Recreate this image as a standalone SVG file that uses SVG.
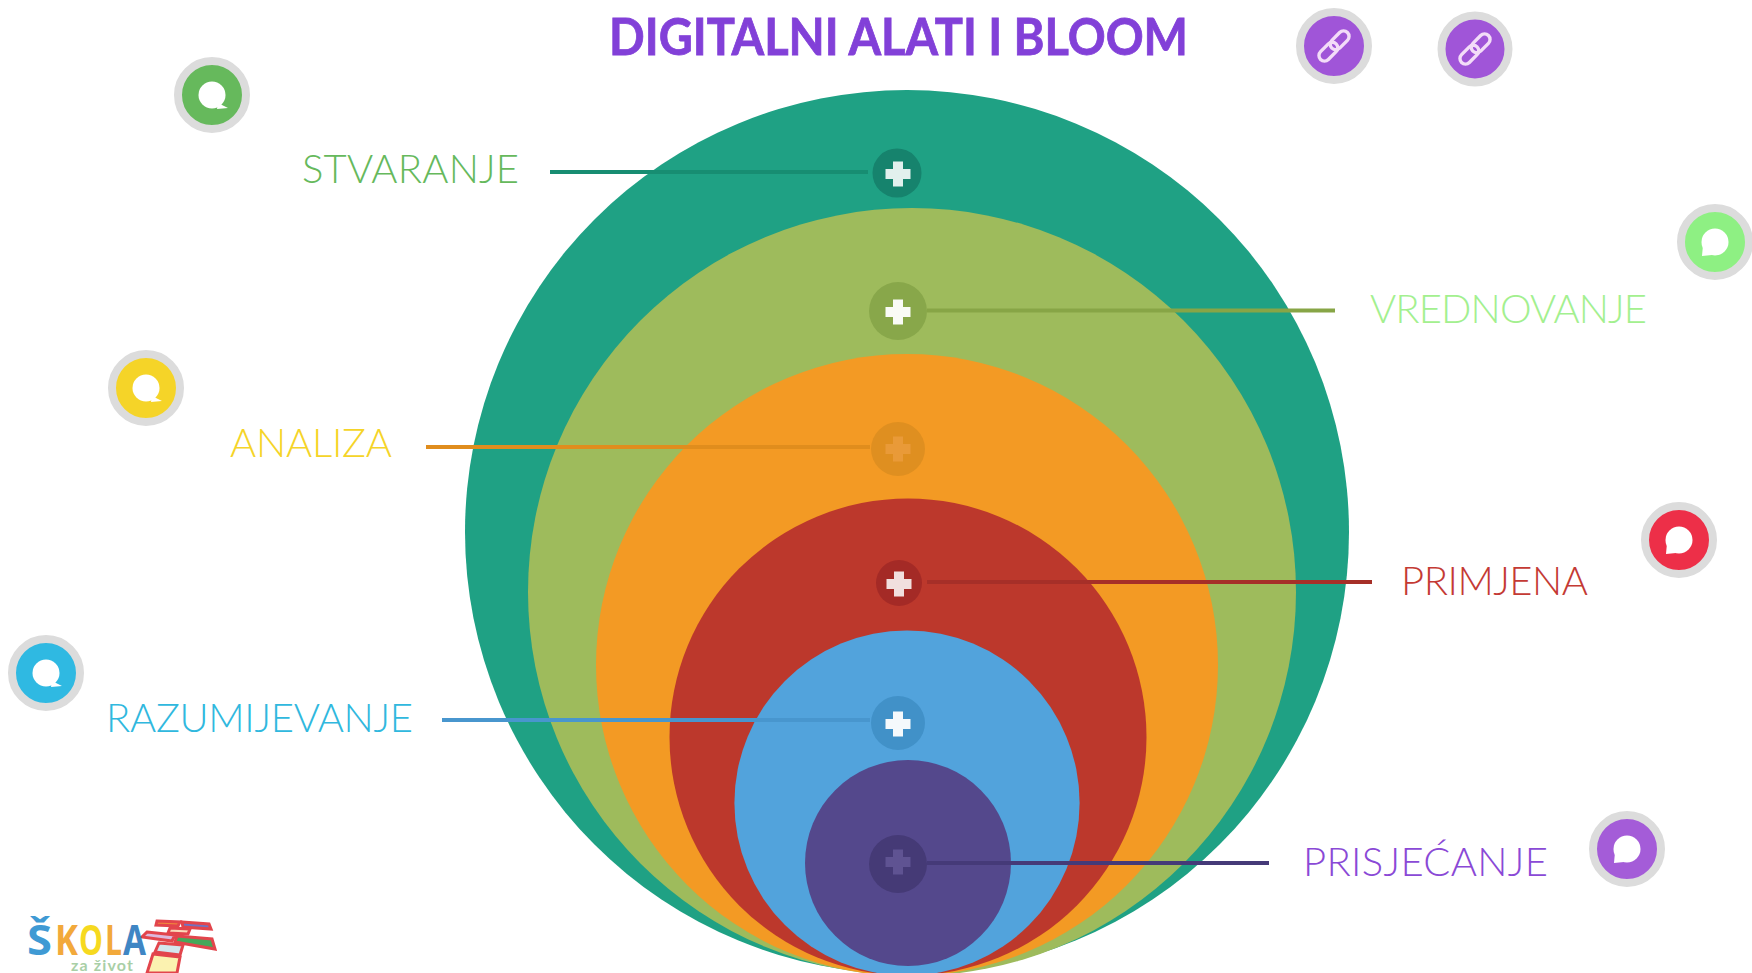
<svg xmlns="http://www.w3.org/2000/svg" width="1752" height="973" viewBox="0 0 1752 973">
<style>
text{font-family:"Lato","Liberation Sans",sans-serif}
.lab{font-size:40px;font-weight:300}
.title{font-size:52px;font-weight:700;fill:#8240d8}
.ring{stroke:#dcdcdc;stroke-width:8}
.plus{fill:#fff}
.conn{stroke-width:4;fill:none}
.lg{font-family:"Open Sans","Liberation Sans",sans-serif;font-weight:700;font-size:42px}
.cell{stroke:#e2454c;stroke-width:3}
</style>
<defs>
<g id="bubR"><circle r="13.5" fill="#fff"/><path d="M6 8 L16 13 L5 14Z" fill="#fff"/></g>
<g id="bubL"><circle r="13.5" fill="#fff"/><path d="M-12 3 L-13 14 L-3 13Z" fill="#fff"/></g>
<path id="pl" d="M-5 -12.500H5V-5H12.500V5H5V12.500H-5V5H-12.500V-5H-5Z"/>
<g id="lnk" fill="none" stroke="#f3dcf8" stroke-width="3.400" transform="rotate(-45)"><rect x="-19" y="-5.500" width="22" height="11" rx="5.500"/><rect x="-3" y="-5.500" width="22" height="11" rx="5.500"/></g>
</defs>
<rect width="1752" height="973" fill="#fff"/>
<g id="discs">
<circle id="d1" cx="907" cy="532" r="442" fill="#1fa184"/>
<circle id="d2" cx="912" cy="592" r="384" fill="#9ebb5c"/>
<circle id="d3" cx="907" cy="665" r="311" fill="#f39a24"/>
<circle id="d4" cx="908" cy="737" r="238.500" fill="#bc382c"/>
<circle id="d5" cx="907" cy="803" r="172.600" fill="#52a3dc"/>
<circle id="d6" cx="908" cy="863" r="103" fill="#54488c"/>
</g>
<g id="connectors">
<path class="conn" d="M550 172H868" stroke="#178d72"/>
<path class="conn" d="M927 310.500H1335" stroke="#87a546"/>
<path class="conn" d="M426 447H870" stroke="#e08d1d"/>
<path class="conn" d="M927 582H1372" stroke="#a62f28"/>
<path class="conn" d="M442 720H870" stroke="#4896ce"/>
<path class="conn" d="M927 863H1269" stroke="#453a78"/>
</g>
<g id="n-stvaranje"><circle cx="897" cy="173" r="24.500" fill="#16836d"/><use href="#pl" x="898" y="174" class="plus" opacity=".88"/><text class="lab" x="302" y="183" fill="#66b95c" textLength="217">STVARANJE</text></g>
<g id="n-vrednovanje"><circle cx="898" cy="311" r="29" fill="#88a74a"/><use href="#pl" x="898" y="312" class="plus" opacity=".95"/><text class="lab" x="1370" y="323" fill="#a3f08f" textLength="277">VREDNOVANJE</text></g>
<g id="n-analiza"><circle cx="898" cy="449" r="27" fill="#df8f20"/><use href="#pl" x="898" y="449" fill="#e99a38"/><text class="lab" x="230" y="457" fill="#f5d428" textLength="162">ANALIZA</text></g>
<g id="n-primjena"><circle cx="899" cy="583" r="23" fill="#a42a26"/><use href="#pl" x="899" y="584" class="plus" opacity=".85"/><text class="lab" x="1401" y="595" fill="#c43a34" textLength="187">PRIMJENA</text></g>
<g id="n-razumijevanje"><circle cx="898" cy="723" r="27" fill="#4191c8"/><use href="#pl" x="898" y="724" class="plus" opacity=".95"/><text class="lab" x="106" y="732" fill="#30b8de" textLength="307">RAZUMIJEVANJE</text></g>
<g id="n-prisjecanje"><circle cx="898" cy="864" r="29" fill="#453a76"/><use href="#pl" x="898" y="862" fill="#5f5392"/><text class="lab" x="1303" y="876" fill="#8a49d6" textLength="245">PRISJEĆANJE</text></g>
<g id="title"><text class="title" x="609" y="55" textLength="579" lengthAdjust="spacingAndGlyphs" stroke="#8240d8" stroke-width=".8">DIGITALNI ALATI I BLOOM</text></g>
<g id="link-1"><circle cx="1334" cy="46" r="34" class="ring" fill="#a055d8"/><g transform="translate(1334 46)"><use href="#lnk"/></g></g>
<g id="link-2"><circle cx="1475" cy="49" r="33.500" class="ring" fill="#a055d8"/><g transform="translate(1475 49)"><use href="#lnk"/></g></g>
<g id="b-green"><circle cx="212" cy="95" r="34" class="ring" fill="#66b95c"/><use href="#bubR" x="212" y="95"/></g>
<g id="b-lime"><circle cx="1715" cy="242" r="34" class="ring" fill="#8ef083"/><use href="#bubL" x="1715" y="242"/></g>
<g id="b-yellow"><circle cx="146" cy="388" r="34" class="ring" fill="#f5d428"/><use href="#bubR" x="146" y="388"/></g>
<g id="b-red"><circle cx="1679" cy="540" r="34" class="ring" fill="#ed2f48"/><use href="#bubL" x="1679" y="540"/></g>
<g id="b-cyan"><circle cx="46" cy="673" r="34" class="ring" fill="#2fb9e2"/><use href="#bubR" x="46" y="673"/></g>
<g id="b-purple"><circle cx="1627" cy="849" r="34" class="ring" fill="#a45cd8"/><use href="#bubL" x="1627" y="849"/></g>
<g id="logo">
<polygon class="cell" points="157,921 180,922 178,926 156,925" fill="#f08a3c"/>
<polygon class="cell" points="182,922 209,924 211,929 183,927" fill="#7272c0"/>
<polygon class="cell" points="170,928 190,929 188,934 168,933" fill="#fbd9b8"/>
<polygon class="cell" points="147,932 175,935 172,941 142,937" fill="#dcb9dc"/>
<polygon class="cell" points="177,936 212,939 215,949 175,942" fill="#46a85a"/>
<polygon class="cell" points="159,943 183,945 180,955 155,952" fill="#d3e6ee"/>
<polygon class="cell" points="153,954 180,957 177,973 147,973" fill="#fbf2b0"/>
<text class="lg" x="27" y="955" fill="#3f9ad4" textLength="25" lengthAdjust="spacingAndGlyphs">Š</text>
<text class="lg" x="55" y="955" fill="#f2a93b" textLength="23" lengthAdjust="spacingAndGlyphs">K</text>
<text class="lg" x="79" y="955" fill="#f6d91f" textLength="24" lengthAdjust="spacingAndGlyphs">O</text>
<text class="lg" x="105" y="955" fill="#f2a93b" textLength="17" lengthAdjust="spacingAndGlyphs">L</text>
<text class="lg" x="123" y="955" fill="#3f86c4" textLength="23" lengthAdjust="spacingAndGlyphs">A</text>
<text x="71" y="971" font-size="16" font-weight="700" fill="#a9cfa6" textLength="62">za život</text>
</g>
</svg>
